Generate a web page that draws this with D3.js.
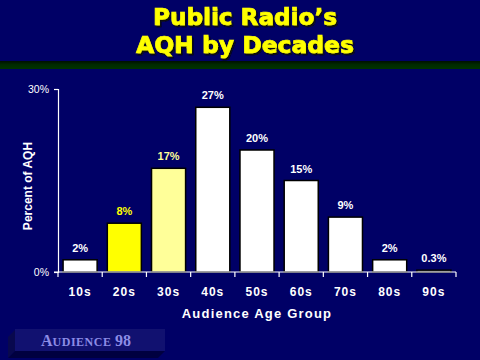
<!DOCTYPE html>
<html><head><meta charset="utf-8">
<script src="https://cdn.jsdelivr.net/npm/d3@7"></script>
<style>html,body{margin:0;padding:0;background:#000066;}svg{display:block;}</style>
</head><body>
<script>
const categories = ["10s","20s","30s","40s","50s","60s","70s","80s","90s"];
const values = [2, 8, 17, 27, 20, 15, 9, 2, 0.3];
const valueLabels = ["2%","8%","17%","27%","20%","15%","9%","2%","0.3%"];
const barColors = ["#ffffff","#ffff00","#ffff99","#ffffff","#ffffff","#ffffff","#ffffff","#ffffff","#ffffff"];
const labelColors = ["#ffffff","#ffff00","#ffff99","#ffffff","#ffffff","#ffffff","#ffffff","#ffffff","#ffffff"];
const yTicks = [0, 30];
const titleLines = ["Public Radio\u2019s", "AQH by Decades"];

const W = 480, H = 360;
const svg = d3.select("body").append("svg").attr("width", W).attr("height", H);
svg.append("rect").attr("width", W).attr("height", H).attr("fill", "#000066");

const defs = svg.append("defs");
const g1 = defs.append("linearGradient").attr("id","band").attr("x1",0).attr("y1",0).attr("x2",0).attr("y2",1);
g1.append("stop").attr("offset","0%").attr("stop-color","#001000");
g1.append("stop").attr("offset","45%").attr("stop-color","#002a00");
g1.append("stop").attr("offset","100%").attr("stop-color","#003300");
const f = defs.append("filter").attr("id","shadow").attr("x","-10%").attr("y","-20%").attr("width","130%").attr("height","150%");
f.append("feDropShadow").attr("dx",1.5).attr("dy",2).attr("stdDeviation",0).attr("flood-color","#111111").attr("flood-opacity",1);

svg.append("rect").attr("x",0).attr("y",61).attr("width",W).attr("height",8).attr("fill","url(#band)");

// Title
const titleWidths = [184, 218];
const titleYs = [25, 53];
svg.selectAll("text.title").data(titleLines).enter().append("text").attr("class","title")
  .attr("x", 245).attr("y", (d,i) => titleYs[i]).attr("text-anchor","middle")
  .attr("font-family","'DejaVu Sans', sans-serif").attr("font-weight","900").attr("font-size",23)
  .attr("textLength", (d,i) => titleWidths[i]).attr("lengthAdjust","spacingAndGlyphs")
  .attr("fill","#ffff00").attr("stroke","#ffff00").attr("stroke-width",0.7)
  .attr("filter","url(#shadow)")
  .text(d => d);

const x = d3.scaleBand().domain(categories).range([58, 456]).paddingInner(0.23).paddingOuter(0.115);
const y = d3.scaleLinear().domain([0, 30]).range([272, 89]);

// Bars
svg.selectAll("rect.bar").data(values).enter().append("rect").attr("class","bar")
  .attr("x", (d,i) => x(categories[i]))
  .attr("y", d => y(d))
  .attr("width", x.bandwidth())
  .attr("height", d => y(0) - y(d))
  .attr("fill", (d,i) => barColors[i])
  .attr("stroke", "#000000").attr("stroke-width", 1.5);

// Value labels
svg.selectAll("text.vl").data(values).enter().append("text").attr("class","vl")
  .attr("x", (d,i) => x(categories[i]) + x.bandwidth()/2)
  .attr("y", d => y(d) - 8)
  .attr("text-anchor","middle")
  .attr("font-family","'Liberation Sans', Arial, sans-serif").attr("font-weight","bold").attr("font-size",11)
  .attr("fill", (d,i) => labelColors[i])
  .text((d,i) => valueLabels[i]);

// Y axis
const yAxis = d3.axisLeft(y).tickValues(yTicks).tickFormat(d => d + "%").tickSize(4).tickPadding(5);
const ya = svg.append("g").attr("transform","translate(58,0)").call(yAxis);
ya.select(".domain").attr("stroke","#ffffff").attr("stroke-width",1.2);
ya.selectAll(".tick line").attr("stroke","#ffffff").attr("stroke-width",1.2);
ya.selectAll(".tick text").attr("fill","#ffffff").attr("font-family","'Liberation Sans', Arial, sans-serif").attr("font-size",10.5);

// X axis
const xa = svg.append("g").attr("transform","translate(0,272)");
xa.append("line").attr("x1",54).attr("x2",456).attr("y1",0).attr("y2",0).attr("stroke","#ffffff").attr("stroke-width",1.2);
const bounds = categories.map(c => x(c) - x.step()*x.paddingInner()/2).concat([456]);
xa.selectAll("line.xt").data(bounds).enter().append("line").attr("class","xt")
  .attr("x1", d => d).attr("x2", d => d).attr("y1", 0).attr("y2", 5)
  .attr("stroke","#ffffff").attr("stroke-width",1.2);
xa.selectAll("text.xl").data(categories).enter().append("text").attr("class","xl")
  .attr("x", d => x(d) + x.bandwidth()/2).attr("y", 24)
  .attr("text-anchor","middle").attr("fill","#ffffff")
  .attr("font-family","'Liberation Sans', Arial, sans-serif").attr("font-weight","bold").attr("font-size",12)
  .attr("letter-spacing", 1)
  .text(d => d);

// Axis titles
svg.append("text").attr("x", 257).attr("y", 318).attr("text-anchor","middle").attr("fill","#ffffff")
  .attr("font-family","'Liberation Sans', Arial, sans-serif").attr("font-weight","bold").attr("font-size",13)
  .attr("letter-spacing", 1.2).text("Audience Age Group");
svg.append("text").attr("transform","translate(32,186) rotate(-90)").attr("text-anchor","middle").attr("fill","#ffffff")
  .attr("font-family","'Liberation Sans', Arial, sans-serif").attr("font-weight","bold").attr("font-size",12)
  .text("Percent of AQH");

// Bottom badge
svg.append("polygon").attr("points","8,337 15,330 15,351 8,358").attr("fill","#08084e");
svg.append("polygon").attr("points","8,358 158,358 165,351 15,351").attr("fill","#000040");
svg.append("rect").attr("x",15).attr("y",329).attr("width",150).attr("height",22).attr("fill","#111170");
const badge = svg.append("text").attr("x", 41).attr("y", 346)
  .attr("font-family","'Liberation Serif', 'Times New Roman', serif").attr("font-weight","bold")
  .attr("fill","#8c8ce6");
badge.append("tspan").attr("font-size",16).text("A");
badge.append("tspan").attr("font-size",12).attr("letter-spacing",0.5).text("UDIENCE ");
badge.append("tspan").attr("font-size",16).text("98");
</script>
</body></html>
